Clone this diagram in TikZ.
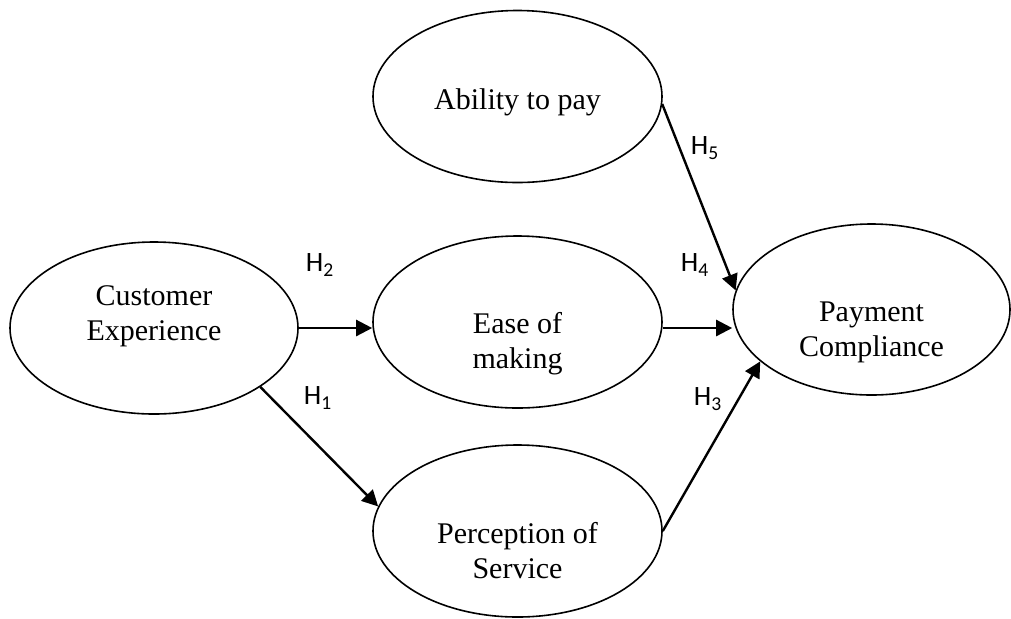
\documentclass[tikz,border=0pt]{standalone}
\usepackage{fontspec}
\setmainfont{Liberation Serif}
\newfontfamily\hypfont{Carlito}
\usetikzlibrary{shapes.geometric,arrows.meta}
\tikzset{
  construct/.style={draw,ellipse,line width=0.8pt,minimum width=144.5pt,minimum height=86pt,inner sep=0pt},
  txt/.style={inner sep=0pt,align=center,font=\fontsize{15}{17.5}\selectfont},
  hyp/.style={font=\hypfont\fontsize{14}{16}\selectfont,inner sep=0pt},
  link/.style={line width=1.2pt,-{Triangle[length=8pt,width=8pt]}}
}

\begin{document}
\begin{tikzpicture}[x=0.5pt,y=-0.5pt]
  \useasboundingbox (0,0) rectangle (1011,618);
  % constructs
  \node[construct,minimum width=144pt] (cust) at (154,328) {};
  \node[construct] (abil) at (517.5,96.5) {};
  \node[construct] (ease) at (517.5,322) {};
  \node[construct] (perc) at (517.5,531) {};
  \node[construct,minimum width=138.5pt,minimum height=85.5pt] (pay) at (871.5,309.5) {};
  \node[txt] (cust-txt) at (154,316) {Customer\\Experience};
  \node[txt] (abil-txt) at (517.5,102.5) {Ability to pay};
  \node[txt] (ease-txt) at (517.5,344) {Ease of\\making};
  \node[txt] (perc-txt) at (517.5,551) {Perception of\\Service};
  \node[txt] (pay-txt) at (871.5,332.5) {Payment\\Compliance};
  % hypotheses
  \draw[link] (cust.east) -- (cust.east -| ease.west);
  \draw[link] (cust.-29) -- (perc.170);
  \draw[link] (ease.east |- cust.east) -- (cust.east -| pay.west);
  \draw[link] (perc.east) -- (pay.205);
  \draw[link] (abil.-3) -- (pay.172);
  \node[hyp] (h1) at (318,398) {H\textsubscript{1}};
  \node[hyp] (h2) at (320,265) {H\textsubscript{2}};
  \node[hyp] (h3) at (708,399) {H\textsubscript{3}};
  \node[hyp] (h4) at (695,265) {H\textsubscript{4}};
  \node[hyp] (h5) at (705,148) {H\textsubscript{5}};
\end{tikzpicture}
\end{document}
